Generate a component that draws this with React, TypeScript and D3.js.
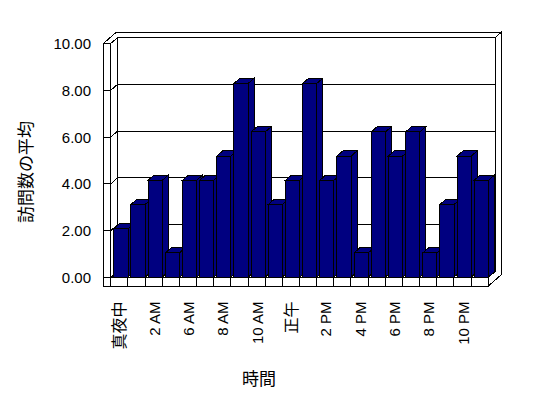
import React from 'react';
import * as d3 from 'd3';

const categories = ['真夜中', '1 AM', '2 AM', '4 AM', '6 AM', '7 AM', '8 AM', '9 AM', '10 AM', '11 AM', '正午', '1 PM', '2 PM', '3 PM', '4 PM', '5 PM', '6 PM', '7 PM', '8 PM', '9 PM', '10 PM', '11 PM'];
const values = [2, 3, 4, 1, 4, 4, 5, 8, 6, 3, 4, 8, 4, 5, 1, 6, 5, 6, 1, 3, 5, 4];
const yTicks = [0, 2, 4, 6, 8, 10];
const yTitle = '訪問数の平均';
const xTitle = '時間';

const W = 548;
const H = 398;
const X0 = 103.3;
const XL = 110.7;
const XR = 488.3;
const Y_BOTTOM = 286;
const Z_IN = 7;
const Z_OUT = 13;
const KX = 1;
const KY = 0.87;

const P = (x: number, y: number, z: number): [number, number] => [x + z * KX, y - z * KY];
const pts = (arr: [number, number][]) => arr.map((p) => p.join(',')).join(' ');

const isCJK = (s: string) => /[\u3000-\u9fff]/.test(s);

export default function App() {
  const yAxis = d3.scaleLinear().domain([0, 10]).range([277.5, 43.5]);
  // bars sit nearer the viewer: slightly larger scale (perspective)
  const yBar = d3.scaleLinear().domain([0, 10]).range([277.5, 277.5 - 242]);
  const x = d3.scaleBand<string>().domain(categories).range([XL, XR]).padding(0);
  const step = x.step();
  const base = yAxis(0);
  const top = yAxis(10);
  const fontLatin = "'Liberation Sans', Arial, sans-serif";
  const fontCJK = "'Noto Sans CJK JP', sans-serif";
  const stroke = '#000';
  const barFill = '#000080';
  const zf = 0.5;
  const zb = 6.5;
  const barOff = 2.6;
  const barW = 14.2;

  return (
    <svg
      width={W}
      height={H}
      style={{ position: 'absolute', left: 0, top: 0, background: '#fff' }}
    >
      <rect x={0} y={0} width={W} height={H} fill="#fff" />
      <g shapeRendering="crispEdges" stroke={stroke} strokeWidth={1}>
        {/* floor top */}
        <polygon
          points={pts([P(XL, base, 0), P(XR, base, 0), P(XR, base, Z_IN), P(XL, base, Z_IN)])}
          fill="#fff"
        />
        {/* floor front */}
        <rect x={XL} y={base} width={XR - XL} height={Y_BOTTOM - base} fill="#fff" />
        {categories.slice(1).map((c) => (
          <line key={'d' + c} x1={x(c)} x2={x(c)} y1={base} y2={Y_BOTTOM} />
        ))}
        {/* right end face */}
        <polygon
          points={pts([
            P(XR, Y_BOTTOM, 0),
            P(XR, Y_BOTTOM, Z_OUT),
            P(XR, top, Z_OUT),
            P(XR, top, Z_IN),
            P(XR, base, Z_IN),
            P(XR, base, 0),
          ])}
          fill="#fff"
        />
        {/* back wall inner face */}
        <polygon
          points={pts([P(XL, top, Z_IN), P(XR, top, Z_IN), P(XR, base, Z_IN), P(XL, base, Z_IN)])}
          fill="#fff"
        />
        {/* left wall inner face */}
        <polygon
          points={pts([P(XL, top, 0), P(XL, top, Z_IN), P(XL, base, Z_IN), P(XL, base, 0)])}
          fill="#fff"
        />
        {/* left wall front face */}
        <rect x={X0} y={top} width={XL - X0} height={Y_BOTTOM - top} fill="#fff" />
        {/* top faces of walls */}
        <polygon
          points={pts([
            P(X0, top, 0),
            P(XL, top, 0),
            P(XL, top, Z_IN),
            P(XR, top, Z_IN),
            P(XR, top, Z_OUT),
            P(X0, top, Z_OUT),
          ])}
          fill="#fff"
        />
        {/* gridlines */}
        {yTicks.map((t) => {
          const y = yAxis(t);
          return (
            <polyline
              key={'g' + t}
              points={pts([[X0, y], [XL, y], P(XL, y, Z_IN), P(XR, y, Z_IN)])}
              fill="none"
            />
          );
        })}
        {/* bars */}
        {values.map((v, i) => {
          const c = categories[i];
          const x0 = (x(c) as number) + barOff;
          const x1 = x0 + barW;
          const yt = yBar(v);
          return (
            <g key={'b' + i} fill={barFill}>
              <polygon points={pts([P(x1, base, zf), P(x1, yt, zf), P(x1, yt, zb), P(x1, base, zb)])} />
              <polygon points={pts([P(x0, yt, zf), P(x1, yt, zf), P(x1, yt, zb), P(x0, yt, zb)])} />
              <polygon points={pts([P(x0, yt, zf), P(x1, yt, zf), P(x1, base, zf), P(x0, base, zf)])} />
            </g>
          );
        })}
      </g>
      {/* y tick labels */}
      {yTicks.map((t) => (
        <text
          key={'yl' + t}
          x={91}
          y={yAxis(t)}
          textAnchor="end"
          dominantBaseline="central"
          fontFamily={fontLatin}
          fontSize={15}
          fill="#000"
        >
          {t.toFixed(2)}
        </text>
      ))}
      {/* x labels */}
      {categories.map((c, i) => {
        if (i % 2 !== 0) return null;
        const cx = (x(c) as number) + step / 2;
        const cjk = isCJK(c);
        const bx = cjk ? cx - 1 : cx + 6;
        const y0 = 301.5;
        return (
          <text
            key={'xl' + i}
            transform={`translate(${bx},${y0}) rotate(-90)`}
            textAnchor="end"
            dominantBaseline={cjk ? 'central' : 'alphabetic'}
            fontFamily={cjk ? fontCJK : fontLatin}
            fontSize={cjk ? 16 : 15}
            fill="#000"
          >
            {c}
          </text>
        );
      })}
      {/* axis titles */}
      <text
        transform={`translate(24,172) rotate(-90)`}
        textAnchor="middle"
        dominantBaseline="central"
        fontFamily={fontCJK}
        fontSize={17}
        fill="#000"
      >
        {yTitle}
      </text>
      <text
        x={259}
        y={377}
        textAnchor="middle"
        dominantBaseline="central"
        fontFamily={fontCJK}
        fontSize={17}
        fill="#000"
      >
        {xTitle}
      </text>
    </svg>
  );
}
